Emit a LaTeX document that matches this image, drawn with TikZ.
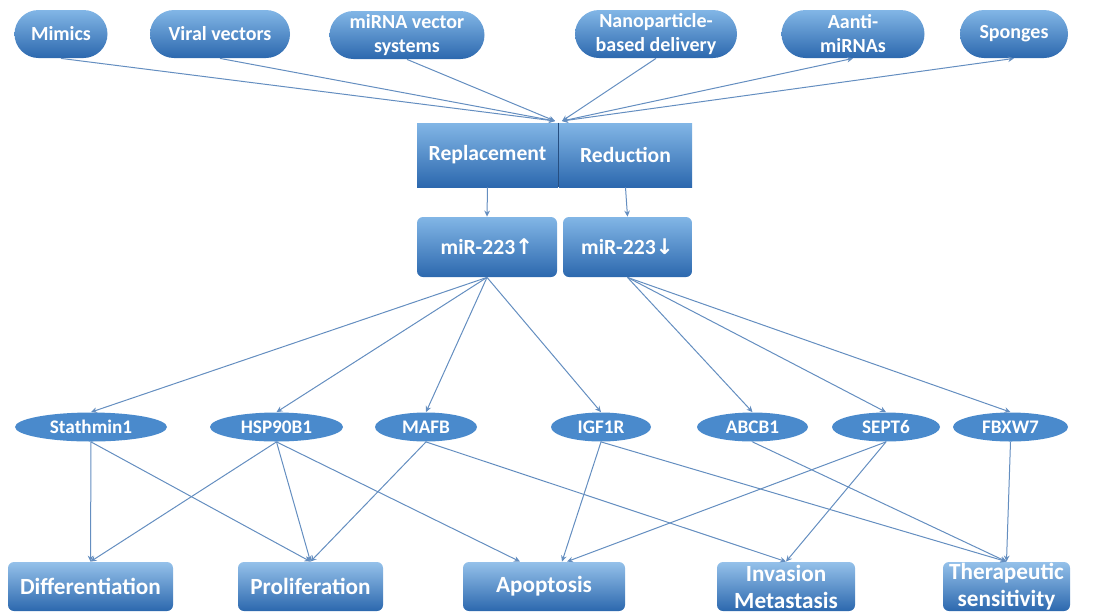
\documentclass[tikz,border=0pt]{standalone}
\usepackage{fontspec}
\setmainfont{Carlito}
\newfontfamily\arrowfont{DejaVu Sans}
\usetikzlibrary{arrows.meta,shapes.geometric}

\definecolor{blueTop}{RGB}{130,182,230}
\definecolor{blueBot}{RGB}{44,104,174}
\definecolor{geneBlue}{RGB}{74,138,204}
\definecolor{linkBlue}{RGB}{100,142,192}
\definecolor{divBlue}{RGB}{38,78,128}

\tikzset{
  >={Stealth[length=3pt,width=2.8pt]},
  base/.style={text=white, inner sep=0pt, align=center},
  pill/.style={base, top color=blueTop, bottom color=blueBot,
    rounded corners=12pt, minimum height=24pt,
    font=\fontsize{10}{12}\selectfont\bfseries},
  strategy/.style={base, top color=blueTop, bottom color=blueBot,
    minimum height=32pt, font=\fontsize{10.8}{12}\selectfont\bfseries},
  level/.style={base, top color=blueTop, bottom color=blueBot,
    rounded corners=3pt, minimum height=30pt,
    font=\fontsize{10.8}{12}\selectfont\bfseries},
  gene/.style={base, ellipse, fill=geneBlue, minimum height=14.5pt,
    font=\fontsize{9.6}{10}\selectfont\bfseries},
  outcome/.style={base, top color=blueTop!85!white, bottom color=blueBot,
    rounded corners=3pt, minimum height=24.5pt,
    font=\fontsize{11.6}{13.5}\selectfont\bfseries},
  link/.style={->, draw=linkBlue, line width=0.5pt},
}

\begin{document}
\begin{tikzpicture}[x=0.5pt,y=-0.5pt]
    \useasboundingbox (0,0) rectangle (1120,612);

    % --- Delivery strategies ---
    \node[pill, minimum width=46.5pt] (mimics) at (61,34) {Mimics};
    \node[pill, minimum width=70pt] (viral) at (220,34) {Viral vectors};
    \node[pill, minimum width=77.5pt] (vecsys) at (407,35) {miRNA vector\\systems};
    \node[pill, minimum width=81pt] (nano) at (656,34) {Nanoparticle-\\based delivery};
    \node[pill, minimum width=71.5pt] (anti) at (853,34) {Aanti-\\miRNAs};
    \node[pill, minimum width=54pt] (sponges) at (1014,34) {Sponges};

    % --- Replacement / Reduction ---
    \node[strategy, minimum width=70.5pt] (repl) at (487.5,155) {Replacement};
    \node[strategy, minimum width=66.5pt] (reduc) at (625.5,155) {Reduction};
    \draw[divBlue, line width=0.6pt] (repl.north east) -- (repl.south east);
    \coordinate (hubL) at (555,121);
    \coordinate (hubR) at (562,121);

    \node[level, minimum width=70pt] (up) at (487,247) {miR-223{\arrowfont↑}};
    \node[level, minimum width=64.5pt] (down) at (627.5,247) {miR-223{\arrowfont↓}};

    % --- Targets ---
    \node[gene, minimum width=76pt] (stath) at (91,427) {Stathmin1};
    \node[gene, minimum width=66.5pt] (hsp) at (276.5,427) {HSP90B1};
    \node[gene, minimum width=51pt] (mafb) at (426,427) {MAFB};
    \node[gene, minimum width=50pt] (igf) at (601,427) {IGF1R};
    \node[gene, minimum width=55.5pt] (abcb) at (752.5,427) {ABCB1};
    \node[gene, minimum width=54pt] (sept) at (886,427) {SEPT6};
    \node[gene, minimum width=57.5pt] (fbxw) at (1010.5,427) {FBXW7};

    % --- Effects ---
    \node[outcome, minimum width=82.5pt] (diff) at (90.5,586.5) {Differentiation};
    \node[outcome, minimum width=72.5pt] (prolif) at (310.5,586.5) {Proliferation};
    \node[outcome, minimum width=81pt] (apop) at (544,586.5) {Apoptosis};
    \node[outcome, minimum width=69pt] (inv) at (786,586.5) {Invasion\\Metastasis};
    \node[outcome, minimum width=63.5pt] (ther) at (1006.5,586.5) {Therapeutic\\sensitivity};

    % Connectors
    \foreach \src in {mimics,viral,vecsys}
        \draw[link] (\src.south) -- (hubL);
    \draw[link] (nano.south) -- (hubR);
    \foreach \src in {anti,sponges}
        \draw[link,<->] (\src.south) -- (hubR);

    \draw[link] (repl.south) -- (up.north);
    \draw[link] (reduc.south) -- (down.north);

    \foreach \g in {stath,hsp,mafb,igf}
        \draw[link] (up.south) -- (\g.north);
    \foreach \g in {abcb,sept,fbxw}
        \draw[link] (down.south) -- (\g.north);

    \foreach \a/\b in {stath/diff, stath/prolif, hsp/diff, hsp/prolif,
                       mafb/prolif, mafb/inv, sept/inv, abcb/ther,
                       igf/ther, fbxw/ther}
        \draw[link] (\a.south) -- (\b.north);
    \draw[link] (hsp.south) -- ([xshift=-12pt]apop.north);
    \draw[link] (igf.south) -- ([xshift=9pt]apop.north);
    \draw[link] (sept.south) -- ([xshift=11.5pt]apop.north);
\end{tikzpicture}
\end{document}
